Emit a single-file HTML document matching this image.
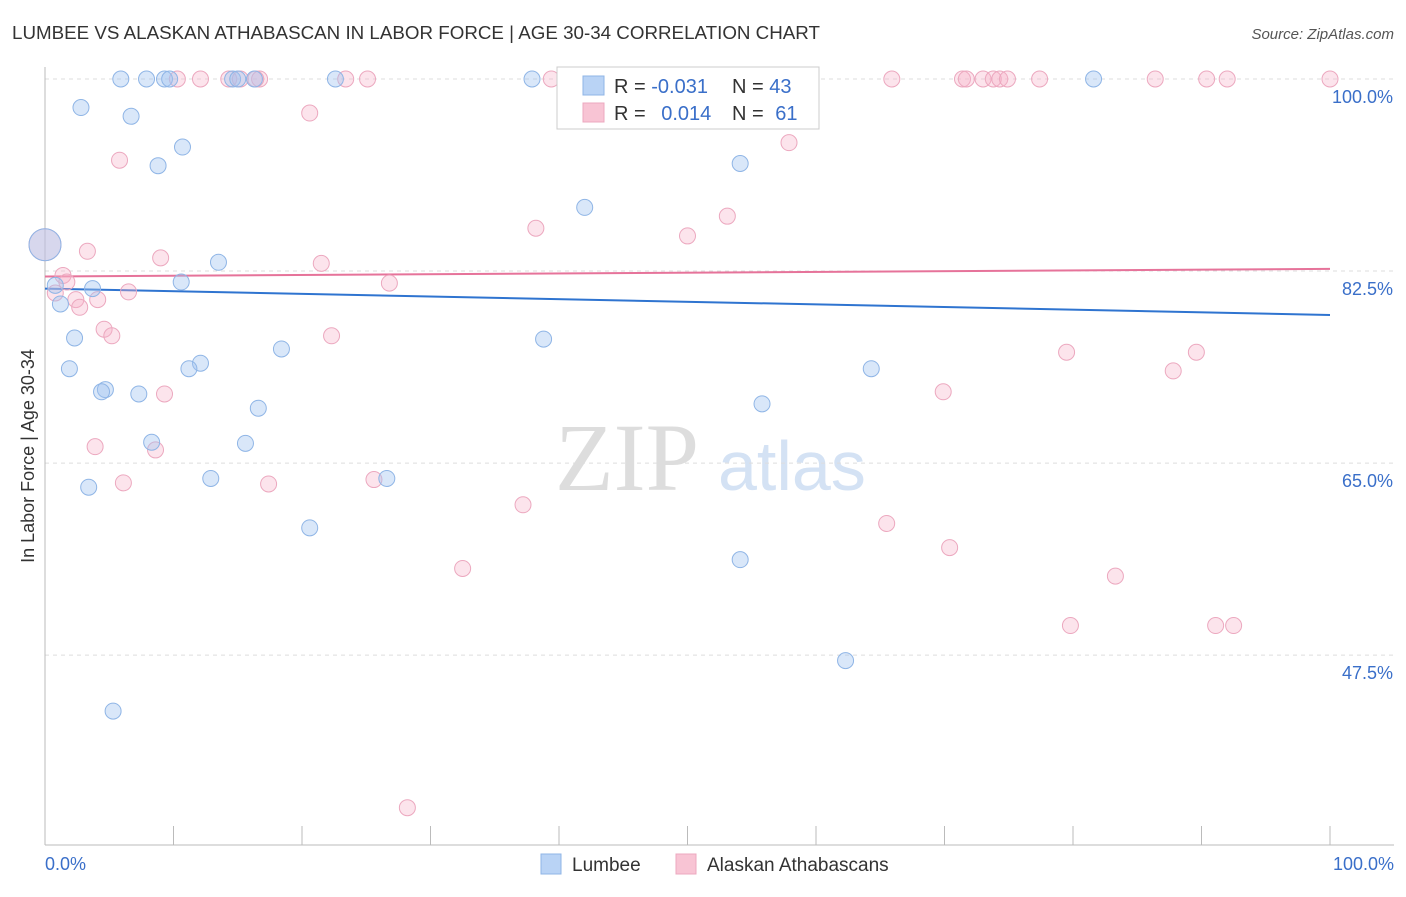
<!DOCTYPE html>
<html><head><meta charset="utf-8"><style>
body{margin:0;background:#fff;font-family:"Liberation Sans",sans-serif;}
</style></head><body>
<svg id="chart" width="1406" height="892" xmlns="http://www.w3.org/2000/svg" font-family="Liberation Sans, sans-serif">
<text x="12" y="39" font-size="18" fill="#333" textLength="808" lengthAdjust="spacingAndGlyphs">LUMBEE VS ALASKAN ATHABASCAN IN LABOR FORCE | AGE 30-34 CORRELATION CHART</text>
<text x="1394" y="39" font-size="15" fill="#555" text-anchor="end" font-style="italic">Source: ZipAtlas.com</text>
<text x="555" y="490" font-size="96" fill="#ddd" font-family="Liberation Serif, serif">ZIP</text>
<text x="718" y="490" font-size="70" fill="#d4e2f4">atlas</text>
<g id="grid"></g>
<g id="axes"></g>
<g id="trends"></g>
<g id="points"></g>
<g>
<rect x="557" y="67" width="262" height="62" fill="#fff" stroke="#ccc"/>
<rect x="583" y="76" width="21" height="19" fill="#b9d3f5" stroke="#8fb5e6"/>
<rect x="583" y="103" width="21" height="19" fill="#f8c4d4" stroke="#eca8bf"/>
<text x="614" y="93" font-size="20" fill="#333">R = <tspan fill="#3a6fc9">-0.031</tspan></text>
<text x="732" y="93" font-size="20" fill="#333">N = <tspan fill="#3a6fc9">43</tspan></text>
<text x="614" y="120" font-size="20" fill="#333">R = <tspan fill="#3a6fc9" dx="10">0.014</tspan></text>
<text x="732" y="120" font-size="20" fill="#333">N = <tspan fill="#3a6fc9" dx="6">61</tspan></text>
</g>
<g>
<rect x="541" y="854" width="20" height="20" fill="#b9d3f5" stroke="#8fb5e6"/>
<text x="572" y="871" font-size="19" fill="#333">Lumbee</text>
<rect x="676" y="854" width="20" height="20" fill="#f8c4d4" stroke="#eca8bf"/>
<text x="707" y="871" font-size="19" fill="#333">Alaskan Athabascans</text>
</g>
<text transform="translate(34,456) rotate(-90)" font-size="18" fill="#333" text-anchor="middle">In Labor Force | Age 30-34</text>
</svg>
<script>
const yTicks=[100,82.5,65,47.5];
const yTickLabels=["100.0%","82.5%","65.0%","47.5%"];
const xTickLabels=["0.0%","100.0%"];
const lumbeeX=[5.9,7.9,9.3,9.7,14.6,16.3,22.6,37.9,81.6,2.8,6.7,10.7,8.8,54.1,42.0,13.5,10.6,0.8,3.7,1.2,2.3,38.8,18.4,12.1,1.9,11.2,64.3,4.7,4.4,7.3,55.8,16.6,8.3,15.6,12.9,26.6,3.4,20.6,54.1,62.3,5.3,0,15.0];
const lumbeeY=[100,100,100,100,100,100,100,100,100,97.4,96.6,93.8,92.1,92.3,88.3,83.3,81.5,81.2,80.9,79.5,76.4,76.3,75.4,74.1,73.6,73.6,73.6,71.7,71.5,71.3,70.4,70.0,66.9,66.8,63.6,63.6,62.8,59.1,56.2,47.0,42.4,84.9,100];
const athX=[10.3,12.1,14.3,15.2,16.7,23.4,25.1,39.4,65.9,71.4,71.7,73.0,73.8,74.3,74.9,77.4,86.4,90.4,92.0,100,20.6,5.8,57.9,53.1,38.2,50.0,3.3,9.0,21.5,1.4,1.7,26.8,0.8,6.5,2.4,4.1,2.7,4.6,5.2,22.3,79.5,89.6,87.8,69.9,9.3,3.9,8.6,6.1,17.4,25.6,37.2,65.5,70.4,32.5,83.3,79.8,91.1,92.5,28.2,0,16.4];
const athY=[100,100,100,100,100,100,100,100,100,100,100,100,100,100,100,100,100,100,100,100,96.9,92.6,94.2,87.5,86.4,85.7,84.3,83.7,83.2,82.1,81.5,81.4,80.5,80.6,79.9,79.9,79.2,77.2,76.6,76.6,75.1,75.1,73.4,71.5,71.3,66.5,66.2,63.2,63.1,63.5,61.2,59.5,57.3,55.4,54.7,50.2,50.2,50.2,33.6,84.9,100];
const bigIndexL=41, bigIndexA=59;
const trendL=[80.9,78.5], trendA=[82.0,82.7];
const X0=45,X1=1330,YT=79,YB=845,YMIN=30.2,YMAX=100;
const sx=v=>X0+(X1-X0)*v/100;
const sy=v=>YT+(YMAX-v)*(YB-YT)/(YMAX-YMIN);
const NS="http://www.w3.org/2000/svg";
function mk(tag,parent,attrs){const e=document.createElementNS(NS,tag);for(const k in attrs)e.setAttribute(k,attrs[k]);document.getElementById(parent).appendChild(e);return e;}
yTicks.forEach((t,i)=>{
 const l=mk('line','grid',{x1:X0,x2:1394,y1:sy(t),y2:sy(t),stroke:'#ddd','stroke-dasharray':'4,4'});
 
 
 const tx=mk('text','grid',{x:1393,y:sy(t)+24,'font-size':18,fill:'#3a6fc9','text-anchor':'end'});
 tx.textContent=yTickLabels[i];
 
 
});
const ax=mk('line','axes',{x1:X0,x2:X0,y1:67,y2:YB,stroke:'#bbb'});


const bx=mk('line','axes',{x1:X0,x2:1394,y1:YB,y2:YB,stroke:'#bbb'});


for(let i=0;i<=10;i++){const t=mk('line','axes',{x1:sx(i*10),x2:sx(i*10),y1:826,y2:YB,stroke:'#bbb'});
 
 }
[[0,'start',45],[100,'end',1394]].forEach((d,i)=>{const t=mk('text','axes',{x:d[2],y:870,'font-size':18,fill:'#3a6fc9','text-anchor':d[1]});t.textContent=xTickLabels[i];
 
 });
function pts(xs,ys,big,fill,stroke,name){xs.forEach((x,i)=>{const c=mk('circle','points',{cx:sx(x),cy:sy(ys[i]),r:i===big?16:8,fill:fill,stroke:stroke,'stroke-width':1});
 
 });}
pts(athX,athY,bigIndexA,'rgba(246,178,200,0.35)','#eca8bf','athabascan-point');
pts(lumbeeX,lumbeeY,bigIndexL,'rgba(160,196,240,0.4)','#8fb5e6','lumbee-point');
const tl=mk('line','trends',{x1:sx(0),x2:sx(100),y1:sy(trendL[0]),y2:sy(trendL[1]),stroke:'#2f74d0','stroke-width':2});


const ta=mk('line','trends',{x1:sx(0),x2:sx(100),y1:sy(trendA[0]),y2:sy(trendA[1]),stroke:'#e6739a','stroke-width':2});


</script>
</body></html>
